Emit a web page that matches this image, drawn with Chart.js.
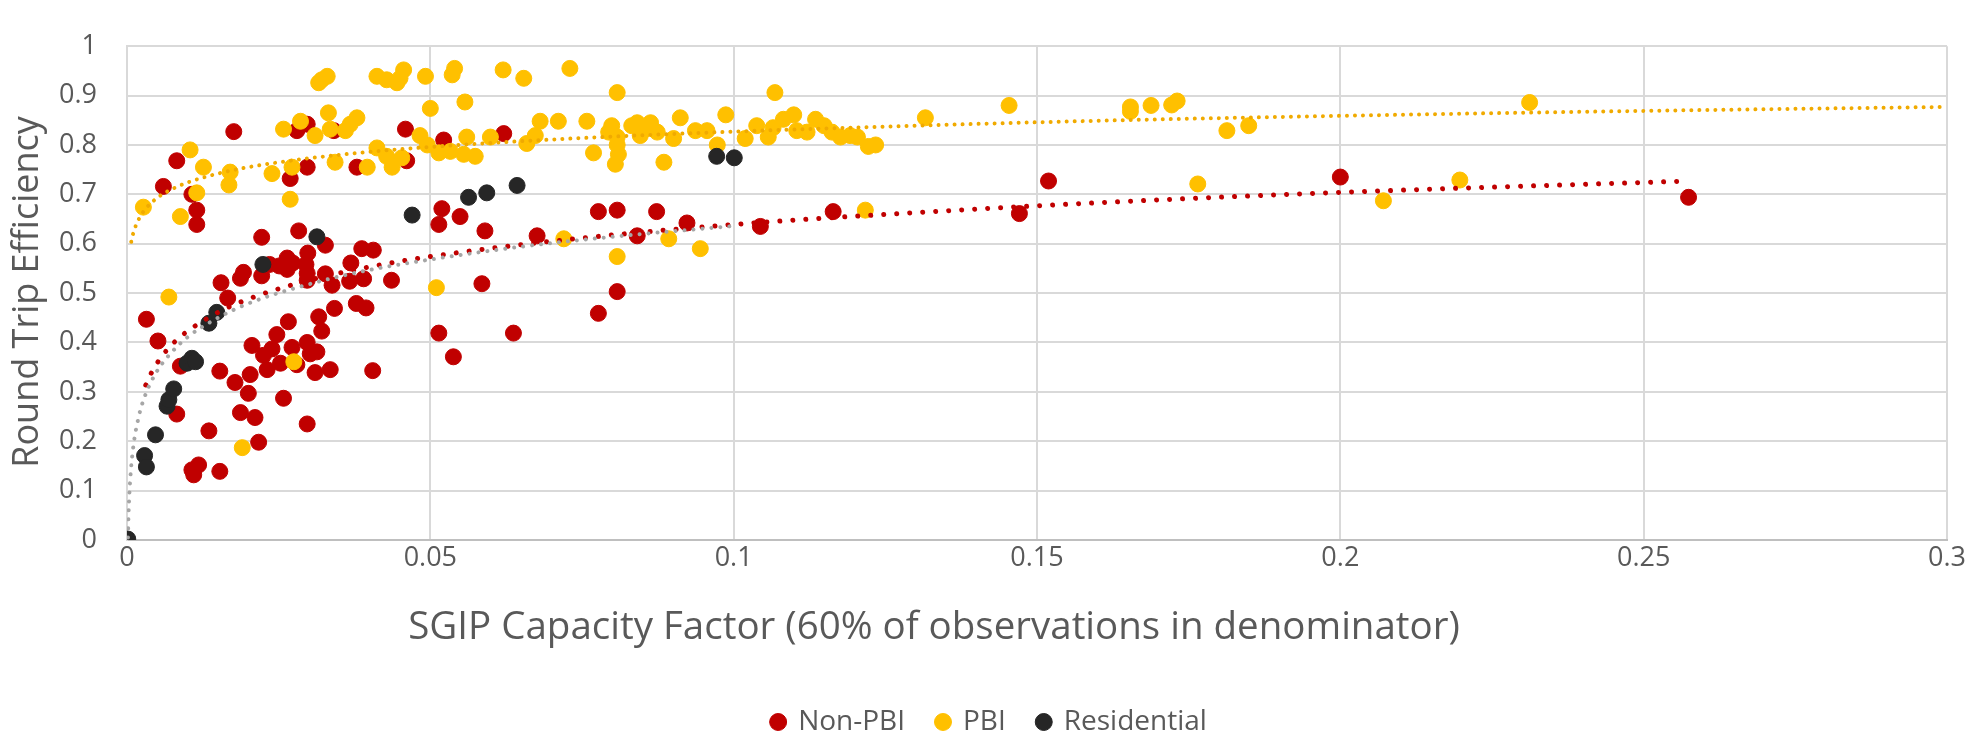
<!DOCTYPE html>
<html>
<head>
<meta charset="utf-8">
<title>Round Trip Efficiency vs SGIP Capacity Factor</title>
<script src="https://cdn.jsdelivr.net/npm/chart.js@4/dist/chart.umd.min.js"></script>
<style>
  html, body { margin: 0; padding: 0; background: #ffffff; }
  #wrap { width: 1980px; height: 737px; position: relative; }
</style>
</head>
<body>
<div id="wrap"><canvas id="chart" width="1980" height="737"></canvas></div>
<script>
// ---- Series: [capacity factor, round trip efficiency] ----
const nonPbiPoints = [
  [0.0176,0.827],[0.0082,0.768],[0.0060,0.716],[0.0107,0.700],[0.0115,0.668],[0.0115,0.639],
  [0.0280,0.829],[0.0297,0.842],[0.0341,0.829],[0.0297,0.755],[0.0269,0.732],[0.0379,0.755],
  [0.0459,0.832],[0.0461,0.768],[0.0522,0.810],[0.0621,0.823],
  [0.0519,0.671],[0.0514,0.639],[0.0549,0.655],[0.0590,0.626],[0.0676,0.616],[0.0777,0.665],
  [0.0808,0.668],[0.0873,0.665],[0.0923,0.642],[0.0841,0.616],[0.1044,0.635],[0.1164,0.665],
  [0.0222,0.613],[0.0283,0.626],[0.0327,0.597],[0.0387,0.590],[0.0406,0.587],
  [0.0585,0.519],[0.0808,0.503],[0.0777,0.459],[0.0637,0.419],[0.0538,0.371],[0.0514,0.419],
  [0.0155,0.521],[0.0166,0.490],[0.0187,0.530],[0.0192,0.542],[0.0222,0.535],[0.0235,0.558],
  [0.0251,0.555],[0.0264,0.571],[0.0273,0.561],[0.0298,0.581],[0.0295,0.558],[0.0297,0.540],
  [0.0264,0.548],[0.0297,0.526],[0.0327,0.539],[0.0338,0.516],[0.0369,0.561],[0.0367,0.524],
  [0.0390,0.529],[0.0436,0.526],[0.0378,0.479],[0.0394,0.470],[0.0342,0.469],
  [0.0032,0.447],[0.0051,0.403],[0.0088,0.352],[0.0082,0.255],[0.0135,0.221],[0.0107,0.142],
  [0.0118,0.152],[0.0110,0.132],[0.0153,0.139],[0.0153,0.342],[0.0178,0.319],[0.0200,0.297],
  [0.0187,0.258],[0.0211,0.248],[0.0217,0.198],[0.0206,0.394],[0.0203,0.335],[0.0225,0.374],
  [0.0231,0.345],[0.0247,0.416],[0.0239,0.387],[0.0253,0.358],[0.0266,0.442],[0.0258,0.287],
  [0.0272,0.390],[0.0280,0.355],[0.0297,0.400],[0.0302,0.377],[0.0313,0.381],[0.0310,0.339],
  [0.0335,0.345],[0.0316,0.452],[0.0321,0.423],[0.0297,0.235],[0.0405,0.343],
  [0.1471,0.661],[0.1519,0.727],[0.2000,0.735],[0.2574,0.694]
];

const pbiPoints = [
  [0.0321,0.932],[0.0330,0.939],[0.0316,0.926],[0.0412,0.939],[0.0428,0.932],[0.0445,0.926],
  [0.0456,0.952],[0.0450,0.935],[0.0492,0.939],[0.0536,0.942],[0.0540,0.955],[0.0620,0.952],
  [0.0654,0.935],[0.0730,0.955],
  [0.0500,0.874],[0.0557,0.887],[0.0332,0.865],[0.0379,0.855],
  [0.0258,0.832],[0.0286,0.848],[0.0310,0.819],[0.0335,0.832],[0.0360,0.829],[0.0368,0.842],
  [0.0104,0.790],[0.0126,0.755],[0.0170,0.745],[0.0168,0.719],[0.0115,0.703],[0.0027,0.674],
  [0.0088,0.655],[0.0239,0.742],[0.0272,0.755],[0.0269,0.690],[0.0343,0.765],[0.0396,0.755],
  [0.0412,0.794],[0.0428,0.777],[0.0437,0.755],[0.0453,0.774],[0.0483,0.819],[0.0495,0.800],
  [0.0514,0.784],[0.0560,0.816],[0.0599,0.816],[0.0533,0.787],[0.0555,0.781],[0.0574,0.777],
  [0.0659,0.803],[0.0673,0.819],[0.0769,0.784],[0.0799,0.839],[0.0794,0.826],[0.0808,0.816],
  [0.0808,0.800],[0.0810,0.781],[0.0805,0.761],[0.0832,0.839],[0.0841,0.845],[0.0863,0.845],
  [0.0874,0.826],[0.0846,0.819],[0.0885,0.765],[0.0912,0.855],[0.0901,0.813],[0.0937,0.829],
  [0.0956,0.829],[0.0987,0.861],[0.0973,0.800],[0.0851,0.829],
  [0.0681,0.848],[0.0711,0.848],[0.0758,0.848],[0.0808,0.906],[0.1068,0.906],
  [0.1019,0.813],[0.1038,0.839],[0.1057,0.816],[0.1082,0.852],[0.1099,0.861],[0.1121,0.826],
  [0.1135,0.852],[0.1149,0.839],[0.1162,0.826],[0.1176,0.816],[0.1192,0.819],[0.1204,0.816],
  [0.1234,0.800],[0.1316,0.855],[0.1104,0.829],[0.1065,0.835],[0.1222,0.797],
  [0.0720,0.610],[0.0893,0.610],[0.0945,0.590],[0.0808,0.574],[0.1217,0.668],
  [0.0069,0.492],[0.0275,0.361],[0.0190,0.187],[0.0510,0.511],
  [0.1454,0.880],[0.1654,0.877],[0.1654,0.868],[0.1688,0.880],[0.1722,0.881],[0.1731,0.889],
  [0.1813,0.829],[0.1849,0.839],[0.1765,0.721],[0.2071,0.687],[0.2197,0.729],[0.2312,0.886]
];

const residentialPoints = [
  [0.00012,0.002],[0.0029,0.171],[0.0032,0.148],[0.0047,0.213],[0.0066,0.271],[0.0069,0.284],
  [0.0077,0.306],[0.0099,0.358],[0.0107,0.368],[0.0113,0.361],[0.0135,0.439],[0.0148,0.461],
  [0.0224,0.558],[0.0313,0.614],[0.0470,0.658],[0.0563,0.694],[0.0593,0.703],[0.0643,0.718],
  [0.0972,0.777],[0.1001,0.774]
];

// ---- Logarithmic trend lines, sampled along x ----
const nonPbiTrendX = [0.0031,0.004,0.006,0.008,0.01,0.015,0.02,0.03,0.04,0.05,0.07,0.1,0.13,0.16,0.2,0.2574];
const nonPbiTrendY = [0.314,0.338,0.376,0.403,0.423,0.461,0.488,0.526,0.553,0.574,0.605,0.639,0.663,0.683,0.704,0.727];

const pbiTrendX = [0.0007,0.001,0.0015,0.002,0.003,0.005,0.0075,0.01,0.015,0.02,0.03,0.04,0.05,0.07,0.1,0.13,0.16,0.2,0.25,0.3];
const pbiTrendY = [0.604,0.620,0.638,0.651,0.670,0.693,0.711,0.724,0.742,0.755,0.773,0.786,0.796,0.811,0.827,0.839,0.849,0.859,0.869,0.877];

const residentialTrendX = [0.00016,0.0002,0.0003,0.0005,0.001,0.002,0.003,0.005,0.0075,0.01,0.015,0.02,0.03,0.04,0.05,0.065,0.08,0.1001];
const residentialTrendY = [0.005,0.027,0.067,0.117,0.185,0.253,0.293,0.343,0.382,0.411,0.450,0.479,0.518,0.547,0.568,0.594,0.614,0.636];

// ---- Axis ticks ----
const xTickValues = [0, 0.05, 0.1, 0.15, 0.2, 0.25, 0.3];
const xTickLabels = ['0', '0.05', '0.1', '0.15', '0.2', '0.25', '0.3'];
const yTickValues = [0, 0.1, 0.2, 0.3, 0.4, 0.5, 0.6, 0.7, 0.8, 0.9, 1];
const yTickLabels = ['0', '0.1', '0.2', '0.3', '0.4', '0.5', '0.6', '0.7', '0.8', '0.9', '1'];

const seriesNames = ['Non-PBI', 'PBI', 'Residential'];
const xAxisTitle = 'SGIP Capacity Factor (60% of observations in denominator)';
const yAxisTitle = 'Round Trip Efficiency';

// ---- Styling ----
const FONT = "'Open Sans', 'Noto Sans', sans-serif";
const TEXT = '#595959';
const RED = '#C00000';
const GOLD = '#FFC000';
const DARK = '#262626';

const toXY = pts => pts.map(p => ({ x: p[0], y: p[1] }));
const zipXY = (xs, ys) => xs.map((x, i) => ({ x, y: ys[i] }));

function scatterSet(label, pts, color, order) {
  return {
    label, data: toXY(pts), order,
    backgroundColor: color, borderColor: color, borderWidth: 1,
    pointRadius: 8, pointHoverRadius: 8, pointStyle: 'circle', showLine: false
  };
}
function trendSet(xs, ys, color, width, gap) {
  return {
    label: '', data: zipXY(xs, ys), order: 0,
    showLine: true, pointRadius: 0, pointHoverRadius: 0,
    borderColor: color, backgroundColor: color, borderWidth: width,
    borderDash: [0.01, gap], borderCapStyle: 'round', fill: false,
    cubicInterpolationMode: 'monotone'
  };
}

// Axis titles, placed relative to the canvas
const axisTitlePlugin = {
  id: 'axisTitles',
  afterDraw(chart) {
    const c = chart.ctx;
    c.save();
    c.fillStyle = TEXT;
    c.textAlign = 'center';
    c.textBaseline = 'middle';
    c.font = "38.5px " + FONT;
    c.fillText(xAxisTitle, 934, 628);
    c.font = "36px " + FONT;
    c.translate(28, 292);
    c.rotate(-Math.PI / 2);
    c.fillText(yAxisTitle, 0, 0);
    c.restore();
  }
};

const LEGEND_ORDER = { 'Non-PBI': 0, 'PBI': 1, 'Residential': 2 };

new Chart(document.getElementById('chart'), {
  type: 'scatter',
  data: {
    datasets: [
      trendSet(residentialTrendX, residentialTrendY, '#A6A6A6', 4, 9),
      trendSet(nonPbiTrendX, nonPbiTrendY, RED, 5, 13),
      trendSet(pbiTrendX, pbiTrendY, '#F0AA00', 4, 8),
      scatterSet(seriesNames[2], residentialPoints, DARK, 1),
      scatterSet(seriesNames[1], pbiPoints, GOLD, 2),
      scatterSet(seriesNames[0], nonPbiPoints, RED, 3)
    ]
  },
  options: {
    responsive: false,
    animation: false,
    events: [],
    layout: { padding: { left: 32, right: 33, top: 20, bottom: -9 } },
    plugins: {
      tooltip: { enabled: false },
      title: { display: false },
      legend: {
        position: 'bottom',
        labels: {
          usePointStyle: true,
          boxWidth: 12, boxHeight: 12,
          padding: 32,
          color: TEXT,
          font: { family: FONT, size: 28 },
          filter: item => LEGEND_ORDER.hasOwnProperty(item.text),
          sort: (a, b) => LEGEND_ORDER[a.text] - LEGEND_ORDER[b.text]
        }
      }
    },
    scales: {
      x: {
        type: 'linear', min: 0, max: 0.3,
        afterBuildTicks: s => { s.ticks = xTickValues.map(v => ({ value: v })); },
        afterFit: s => { s.height = 136; },
        grid: { color: '#D9D9D9', lineWidth: 2, drawTicks: false },
        border: { color: '#BFBFBF', width: 2 },
        ticks: {
          padding: 2, color: TEXT, maxRotation: 0,
          font: { family: FONT, size: 27 },
          callback: (v, i) => xTickLabels[i]
        },
        title: { display: false }
      },
      y: {
        type: 'linear', min: 0, max: 1,
        afterBuildTicks: s => { s.ticks = yTickValues.map(v => ({ value: v })); },
        afterFit: s => { s.width = 95; },
        grid: { color: '#D9D9D9', lineWidth: 2, drawTicks: false },
        border: { color: '#D9D9D9', width: 2 },
        ticks: {
          padding: 30, color: TEXT,
          font: { family: FONT, size: 27 },
          callback: (v, i) => yTickLabels[i]
        },
        title: { display: false }
      }
    }
  },
  plugins: [axisTitlePlugin]
});
</script>
</body>
</html>
